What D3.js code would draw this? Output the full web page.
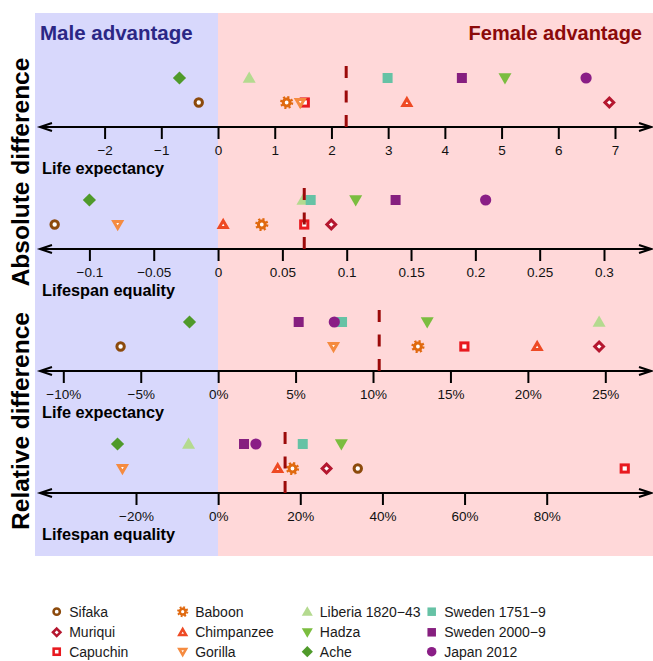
<!DOCTYPE html>
<html>
<head>
<meta charset="utf-8">
<script src="https://cdn.jsdelivr.net/npm/d3@7"></script>
<style>
  body { margin: 0; background: #ffffff; }
  svg { display: block; font-family: "Liberation Sans", Arial, Helvetica, sans-serif; }
</style>
</head>
<body>
<svg id="chart" width="653" height="661"></svg>
<script>
// Populations, in legend order (column by column)
const species = ["Sifaka", "Muriqui", "Capuchin", "Baboon", "Chimpanzee", "Gorilla",
                 "Liberia 1820\u221243", "Hadza", "Ache", "Sweden 1751\u22129", "Sweden 2000\u22129", "Japan 2012"];
const groups  = ["primate", "primate", "primate", "primate", "primate", "primate",
                 "human", "human", "human", "human", "human", "human"];
const colors  = ["#8c4a0c", "#b5172f", "#e8191f", "#e0690f", "#ee4a24", "#f58b40",
                 "#b4da8f", "#7bbd3f", "#4f9a2a", "#66c2a5", "#861f7f", "#8a1e86"];
const shapes  = ["ocircle", "odiamond", "osquare", "gear", "otri", "otridown",
                 "tri", "tridown", "diamond", "square", "square", "circle"];

// Female minus male: absolute difference in life expectancy (years)
const absLifeExp   = [-0.34, 6.90, 1.53, 1.21, 3.33, 1.45, 0.55, 5.06, -0.68, 2.99, 4.30, 6.49];
// Absolute difference in lifespan equality
const absLifespan  = [-0.127, 0.088, 0.067, 0.034, 0.004, -0.078, 0.066, 0.107, -0.100, 0.072, 0.138, 0.208];
// Relative difference in life expectancy (%)
const relLifeExp   = [-6.3, 24.6, 15.9, 12.9, 20.6, 7.45, 24.6, 13.5, -1.85, 8.0, 5.2, 7.5];
// Relative difference in lifespan equality (%)
const relLifespan  = [34, 26.4, 99, 18.1, 14.5, -23.3, -7.2, 30, -24.5, 20.6, 6.3, 9.2];
// Average difference shown by the dashed line in each panel
const meanLines    = [2.26, 0.067, 10.4, 16.3];

// Tick values for each panel
const ticksAbsLE  = [-2, -1, 0, 1, 2, 3, 4, 5, 6, 7];
const ticksAbsLS  = [-0.1, -0.05, 0, 0.05, 0.1, 0.15, 0.2, 0.25, 0.3];
const ticksRelLE  = [-10, -5, 0, 5, 10, 15, 20, 25];
const ticksRelLS  = [-20, 0, 20, 40, 60, 80];

const minus = s => s.replace("-", "\u2212");

const panels = [
  { values: absLifeExp,  mean: meanLines[0], ticks: ticksAbsLE, title: "Life expectancy",
    domain: [-2, 7], range: [104.6, 615], fmt: d => minus(String(d)), axisY: 127 },
  { values: absLifespan, mean: meanLines[1], ticks: ticksAbsLS, title: "Lifespan equality",
    domain: [-0.1, 0.3], range: [89.4, 604], fmt: d => minus(String(d)), axisY: 249 },
  { values: relLifeExp,  mean: meanLines[2], ticks: ticksRelLE, title: "Life expectancy",
    domain: [-10, 25], range: [63.3, 605.3], fmt: d => minus(d + "%"), axisY: 371 },
  { values: relLifespan, mean: meanLines[3], ticks: ticksRelLS, title: "Lifespan equality",
    domain: [-20, 80], range: [136, 546.7], fmt: d => minus(d + "%"), axisY: 493 }
];

const svg = d3.select("#chart");
const zeroX = 218, bgLeft = 35, bgRight = 653, bgTop = 13, bgBottom = 556;

// Shaded halves: male advantage (left of zero) and female advantage (right)
svg.append("rect").attr("x", bgLeft).attr("y", bgTop)
  .attr("width", zeroX - bgLeft).attr("height", bgBottom - bgTop).attr("fill", "#d8d8fc");
svg.append("rect").attr("x", zeroX).attr("y", bgTop)
  .attr("width", bgRight - zeroX).attr("height", bgBottom - bgTop).attr("fill", "#ffd8d9");

svg.append("text").attr("x", 40).attr("y", 40)
  .attr("font-size", 20.5).attr("font-weight", "bold").attr("fill", "#2b2785")
  .text("Male advantage");
svg.append("text").attr("x", 642).attr("y", 40).attr("text-anchor", "end")
  .attr("font-size", 20).attr("font-weight", "bold").attr("fill", "#8b0a0a")
  .text("Female advantage");

// Section titles on the left
[["Absolute difference", 172], ["Relative difference", 421]].forEach(([t, cy]) => {
  svg.append("text")
    .attr("transform", `translate(29,${cy}) rotate(-90)`)
    .attr("text-anchor", "middle")
    .attr("font-size", 24.5).attr("font-weight", "bold").attr("fill", "#000")
    .text(t);
});

// Marker drawing
function drawMarker(g, shape, color, x, y, k) {
  k = k || 1;
  const t = g.append("g").attr("transform", `translate(${x},${y}) scale(${k})`);
  const tri = r => `M0,${-r}L${r * 0.866},${r * 0.5}L${-r * 0.866},${r * 0.5}Z`;
  const triDown = r => `M0,${r}L${r * 0.866},${-r * 0.5}L${-r * 0.866},${-r * 0.5}Z`;
  const open = { fill: "#ffffff", stroke: color, "stroke-width": 3, "stroke-linejoin": "miter" };
  const apply = (sel, attrs) => { Object.entries(attrs).forEach(([a, v]) => sel.attr(a, v)); return sel; };
  switch (shape) {
    case "ocircle":
      apply(t.append("circle").attr("r", 3.7), open); break;
    case "osquare":
      apply(t.append("rect").attr("x", -3.6).attr("y", -3.6).attr("width", 7.2).attr("height", 7.2), open); break;
    case "odiamond":
      apply(t.append("path").attr("d", "M0,-4.4L4.4,0L0,4.4L-4.4,0Z"), open); break;
    case "otri":
      apply(t.append("path").attr("d", tri(4.6)).attr("transform", "translate(0,0.8)"), open); break;
    case "otridown":
      apply(t.append("path").attr("d", triDown(4.6)).attr("transform", "translate(0,-0.8)"), open); break;
    case "gear":
      t.append("circle").attr("r", 5.4).attr("fill", "none").attr("stroke", color)
        .attr("stroke-width", 2.4).attr("stroke-dasharray", "2.1,2.14");
      apply(t.append("circle").attr("r", 3.4), open); break;
    case "tri":
      t.append("path").attr("d", tri(7.5)).attr("transform", "translate(0,1)").attr("fill", color); break;
    case "tridown":
      t.append("path").attr("d", triDown(7.5)).attr("transform", "translate(0,-1)").attr("fill", color); break;
    case "diamond":
      t.append("path").attr("d", "M0,-6.6L6.6,0L0,6.6L-6.6,0Z").attr("fill", color); break;
    case "square":
      t.append("rect").attr("x", -5).attr("y", -5).attr("width", 10).attr("height", 10).attr("fill", color); break;
    case "circle":
      t.append("circle").attr("r", 5.6).attr("fill", color); break;
  }
}

// Axis with arrowheads at both ends
function arrowAxis(g, y) {
  g.append("line").attr("x1", 40).attr("x2", 651).attr("y1", y).attr("y2", y)
    .attr("stroke", "#000").attr("stroke-width", 2);
  g.append("path").attr("d", `M52,${y - 4}L40,${y}L52,${y + 4}`)
    .attr("fill", "none").attr("stroke", "#000").attr("stroke-width", 2);
  g.append("path").attr("d", `M639,${y - 4}L651,${y}L639,${y + 4}`)
    .attr("fill", "none").attr("stroke", "#000").attr("stroke-width", 2);
}

panels.forEach(p => {
  const x = d3.scaleLinear().domain(p.domain).range(p.range);
  const g = svg.append("g");
  const rowY = { human: p.axisY - 49, primate: p.axisY - 24.5 };

  // Tick marks and labels
  const axis = d3.axisBottom(x).tickValues(p.ticks).tickFormat(p.fmt)
    .tickSize(12).tickPadding(6);
  const ag = g.append("g").attr("transform", `translate(0,${p.axisY})`).call(axis);
  ag.select(".domain").remove();
  ag.selectAll(".tick line").attr("stroke", "#000").attr("stroke-width", 2);
  ag.selectAll(".tick text").attr("font-size", 13.5).attr("fill", "#111")
    .attr("font-family", "'Liberation Sans', Arial, sans-serif");
  arrowAxis(g, p.axisY);

  g.append("text").attr("x", 42).attr("y", p.axisY + 47)
    .attr("font-size", 16.3).attr("font-weight", "bold").attr("fill", "#000")
    .text(p.title);

  // Markers
  p.values.forEach((v, i) => {
    drawMarker(g, shapes[i], colors[i], x(v), rowY[groups[i]]);
  });

  // Average difference
  g.append("line").attr("x1", x(p.mean)).attr("x2", x(p.mean))
    .attr("y1", p.axisY - 61).attr("y2", p.axisY)
    .attr("stroke", "#9b0a0a").attr("stroke-width", 3).attr("stroke-dasharray", "12,12.5");
});

// Legend, four columns of three
const legX = [56.7, 182.7, 307.3, 431.7];
const legY = [611.7, 632.3, 651.7];
const leg = svg.append("g");
species.forEach((s, i) => {
  const col = Math.floor(i / 3), row = i % 3;
  drawMarker(leg, shapes[i], colors[i], legX[col], legY[row], 0.85);
  leg.append("text").attr("x", legX[col] + 12.5).attr("y", legY[row]).attr("dy", "0.35em")
    .attr("font-size", 14).attr("fill", "#1a1a1a").text(s);
});
</script>
</body>
</html>
